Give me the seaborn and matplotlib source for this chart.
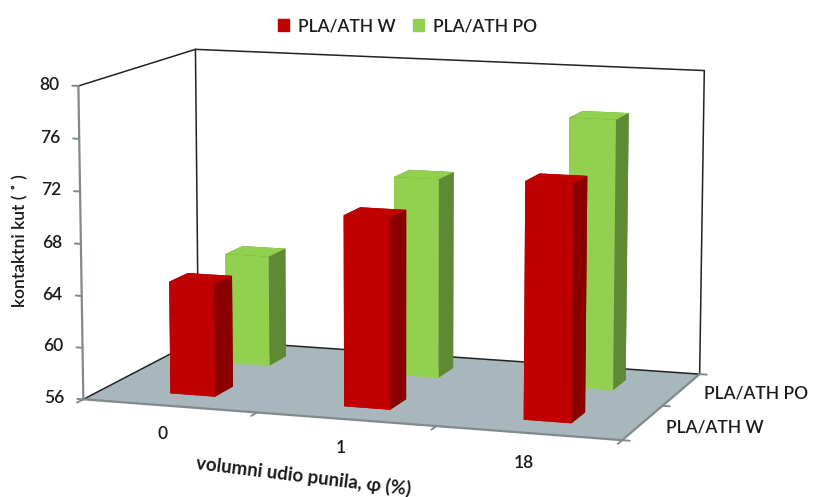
#!/usr/bin/env python3
# -*- coding: utf-8 -*-
import matplotlib
matplotlib.use('Agg')
import matplotlib.pyplot as plt
import seaborn as sns
from matplotlib.patches import Patch
from mpl_toolkits.mplot3d.art3d import Poly3DCollection

groups = ['0', '1', '18']
series = ['PLA/ATH W', 'PLA/ATH PO']
ath_w = [64.7, 70.6, 73.9]
ath_po = [64.8, 71.7, 77.0]
y_ticks = [56, 60, 64, 68, 72, 76, 80]

RED = ('#c00000', '#c00000', '#c00000', '#8a0000')
GREEN = ('#92d050', '#92d050', '#92d050', '#5f8a35')
FLOOR = '#a8b7bc'
TEXT = '#1a1a1a'

sns.set_theme(style='white')
plt.rcParams['font.family'] = ['Lato', 'DejaVu Sans']
plt.rcParams['font.weight'] = 'semibold'

fig = plt.figure(figsize=(8.15, 4.97), dpi=100)
ax = fig.add_axes([-0.027, -0.312, 1.0, 1.64], projection='3d', computed_zorder=False)
ax.set_proj_type('persp', focal_length=0.8)
ax.view_init(elev=10, azim=-71.5)
ax.set_box_aspect((3.4, 1.9, 1.93), zoom=0.84)
ax.set_xlim(0, 3)
ax.set_ylim(0, 2)
ax.set_zlim(56, 80)
ax.set_axis_off()
ax.patch.set_alpha(0)

zlo, zhi = y_ticks[0], y_ticks[-1]
floor = Poly3DCollection([[(0, 0, zlo), (3, 0, zlo), (3, 2, zlo), (0, 2, zlo)]],
                         facecolor=FLOOR, edgecolor='none', zorder=1)
ax.add_collection3d(floor)

# walls
for xs, ys, zs in [([0, 0], [2, 2], [zlo, zhi]), ([3, 3], [2, 2], [zlo, zhi]),
                   ([0, 0], [0, 2], [zhi, zhi]), ([0, 3], [2, 2], [zhi, zhi]),
                   ([0, 3], [2, 2], [zlo, zlo]), ([0, 0], [0, 2], [zlo, zlo])]:
    ax.plot(xs, ys, zs, color='#222222', lw=1.1, zorder=2)

# axis lines and ticks
for xs, ys, zs in [([0, 0], [0, 0], [zlo, zhi]), ([0, 3], [0, 0], [zlo, zlo]), ([3, 3], [0, 2], [zlo, zlo])]:
    ax.plot(xs, ys, zs, color='#808a8c', lw=1.6, zorder=2)
for z in y_ticks:
    ax.plot([-0.035, 0], [0, 0], [z, z], color='#808a8c', lw=1.4, zorder=2)
    ax.text(-0.11, 0, z, str(z), ha='right', va='center', fontsize=12.5, color=TEXT)
for x in range(4):
    ax.plot([x, x], [-0.1, 0], [zlo, zlo], color='#808a8c', lw=1.4, zorder=2)
for y in range(3):
    ax.plot([3, 3.04], [y, y], [zlo, zlo], color='#808a8c', lw=1.4, zorder=2)
for i, label in enumerate(groups):
    ax.text(i * 0.97 + 0.72, -0.75, zlo, label, ha='center', va='center', fontsize=12.5, color=TEXT)
ax.text(3.14, 0.42, zlo, series[0], ha='left', va='center', fontsize=12.5, color=TEXT)
ax.text(3.14, 1.42, zlo, series[1], ha='left', va='center', fontsize=12.5, color=TEXT)

width = 0.26
depth = 0.32
for y_pos, vals, col in [(1.34, ath_po, GREEN), (0.34, ath_w, RED)]:
    bottom, top, front, side = col
    for i, v in enumerate(vals):
        # faces: bottom, top, front, back, left, right
        ax.bar3d(i + 0.39, y_pos, zlo, width, depth, v - zlo, zorder=3,
                 color=[bottom, top, front, side, side, side], shade=False, edgecolor='none')

fig.text(0.372, 0.042, 'volumni udio punila, φ (%)', fontsize=13.5, color=TEXT, rotation=-7,
         ha='center', va='center', fontweight='bold')
fig.text(0.0245, 0.515, 'kontaktni kut ( ˚ )', fontsize=12.5, color=TEXT, rotation=90, ha='center', va='center')

handles = [Patch(color=RED[2], label=series[0]), Patch(color=GREEN[2], label=series[1])]
fig.legend(handles=handles, loc='upper center', bbox_to_anchor=(0.5, 0.995), ncol=2, frameon=False,
           fontsize=12.5, labelcolor=TEXT, handlelength=0.65, handleheight=0.65, columnspacing=1.0, handletextpad=0.5)

fig.savefig('out.png', dpi=100)
